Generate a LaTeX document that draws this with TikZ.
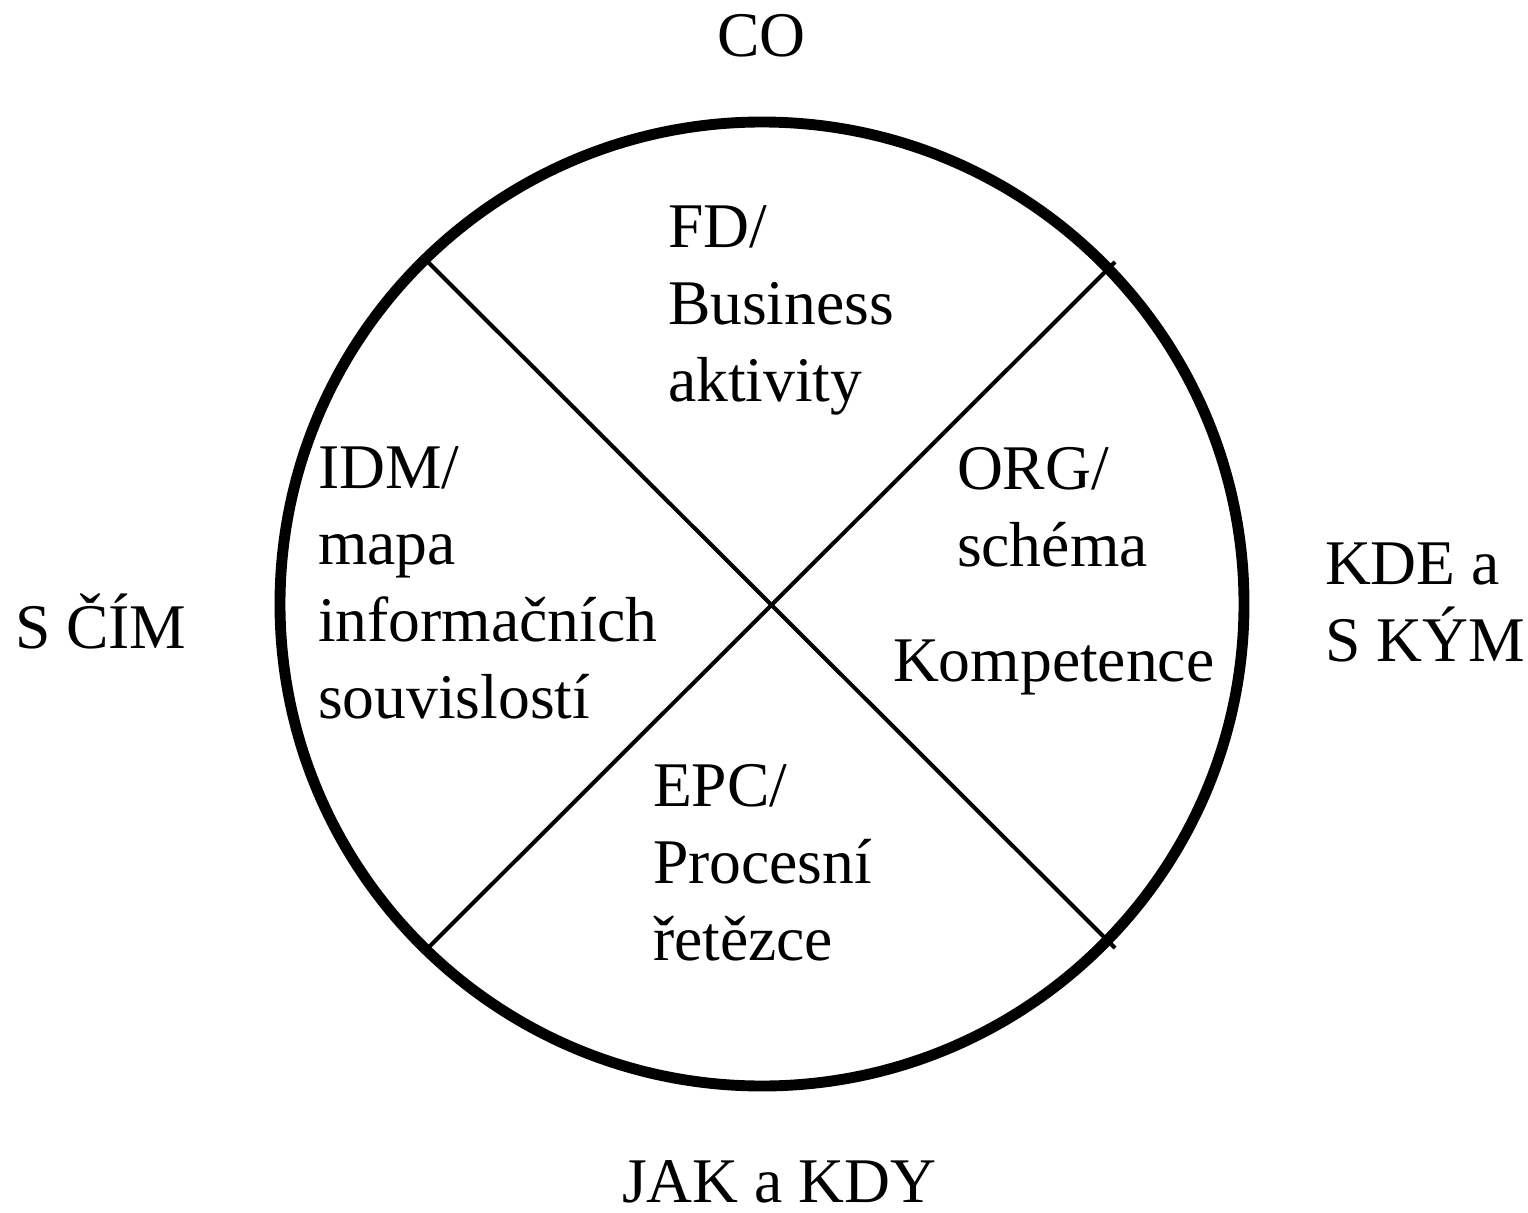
\documentclass[tikz,border=0pt]{standalone}
\usepackage{fontspec}
\setmainfont{Liberation Serif}

\tikzset{
  lbl/.style={anchor=base west,inner sep=0pt,outer sep=0pt,align=left,
    font=\fontsize{36.2}{43.6}\selectfont},
  rim/.style={line width=6.2pt},
  cut/.style={line width=2.3pt}
}

\begin{document}
\begin{tikzpicture}[x=0.02cm,y=-0.02cm]
\useasboundingbox (0,0) rectangle (1528,1213);

\coordinate (NW) at (428,262);
\coordinate (SE) at (1115,948);
\coordinate (SW) at (428,948);
\coordinate (NE) at (1115,262);

\draw[rim] (762,604) circle [radius=482];
\draw[cut] (NW) -- (SE);
\draw[cut] (SW) -- (NE);

% multi-line labels sit on the baseline of their last line
\node[lbl] (CO) at (717,57) {CO};
\node[lbl] (FD) at (668,401) {FD/\\Business\\aktivity};
\node[lbl] (IDM) at (318,718) {IDM/\\mapa\\informačních\\souvislostí};
\node[lbl] (ORG) at (957,566) {ORG/\\schéma};
\node[lbl] (KOMP) at (893,681) {Kompetence};
\node[lbl] (EPC) at (653,960) {EPC/\\Procesní\\řetězce};
\node[lbl] (KDE) at (1325,661) {KDE a\\S KÝM};
\node[lbl] (SCIM) at (15,648) {S ČÍM};
\node[lbl] (JAK) at (622,1202) {JAK a KDY};
\end{tikzpicture}
\end{document}
